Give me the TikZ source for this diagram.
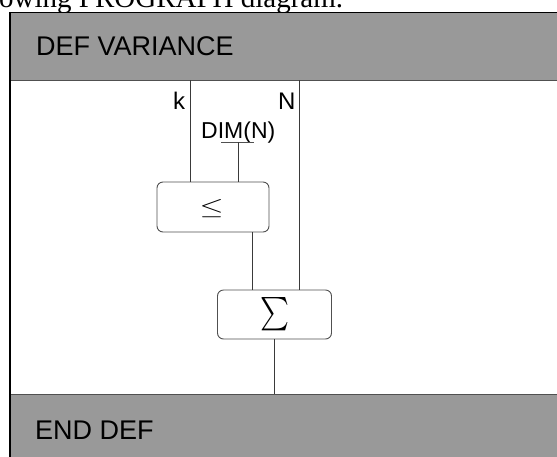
\documentclass[tikz,border=0pt]{standalone}
\usepackage{fontspec}
\setmainfont{Liberation Serif}
\newfontfamily\lsans{Liberation Sans}
\definecolor{hdrgray}{HTML}{999999}
\definecolor{linegray}{HTML}{3A3A3A}
\definecolor{boxgray}{HTML}{505050}
\tikzset{
  opbox/.style={draw=boxgray, line width=0.9pt, rounded corners=6pt, fill=white, inner sep=0pt},
  wire/.style={draw=linegray, line width=0.9pt},
  lbl/.style={inner sep=0pt, anchor=base west, font=\lsans\fontsize{24}{28}\selectfont},
  bandtext/.style={inner sep=0pt, anchor=base west, font=\lsans\fontsize{27}{32}\selectfont}
}
\begin{document}
\begin{tikzpicture}[x=1pt,y=-1pt]
\useasboundingbox (0,0) rectangle (557,456);
\clip (0,0) rectangle (557,456);
% cropped caption text above
\node[inner sep=0pt, anchor=base west, font=\fontsize{29}{34}\selectfont] (cap) at (-1,7) {owing PROGRAPH diagram.};
% header and footer bands
\node[fill=hdrgray, draw=none, inner sep=0pt, minimum width=560pt, minimum height=68pt, anchor=north west] (hdr) at (10,12) {};
\node[fill=hdrgray, draw=none, inner sep=0pt, minimum width=560pt, minimum height=70pt, anchor=north west] (ftr) at (10,394) {};
\draw[black, line width=1pt] (hdr.north west) -- (hdr.north east);
\draw[boxgray, line width=1pt] (hdr.south west) -- (hdr.south east);
\draw[boxgray, line width=1pt] (ftr.north west) -- (ftr.north east);
\draw[black, line width=1.2pt] (hdr.north west) -- (ftr.south west);
\node[bandtext] (deftxt) at (36,55) {DEF VARIANCE};
\node[bandtext] (endtxt) at (35,439) {END DEF};
% operation boxes
\node[opbox, minimum width=112pt, minimum height=50pt] (le) at (213,207) {};
\node[inner sep=0pt] (lesym) at (211.7,209) {\resizebox{24pt}{15pt}{$\leq$}};
\node[opbox, minimum width=114pt, minimum height=49pt] (sum) at (274.5,314.5) {};
\node[inner sep=0pt] (sumsym) at (275.3,314.5) {\resizebox{29pt}{25pt}{$\sum$}};
% inputs
\coordinate (kin) at (190,80);
\coordinate (nin) at (299,80);
\node[lbl] (klbl) at (173,109) {k};
\node[lbl] (nlbl) at (278,109) {N};
\node[inner sep=0pt, anchor=base west, font=\lsans\fontsize{23}{27}\selectfont] (dim) at (201,138) {DIM(N)};
\coordinate (dimL) at (221,142);
\coordinate (dimR) at (254,142);
\coordinate (dimC) at (238,142);
\draw[boxgray, line width=0.9pt] (dimL) -- (dimR);
\draw[wire] (kin) -- (kin |- le.north);
\draw[wire] (dimC) -- (dimC |- le.north);
\draw[wire] (nin) -- (nin |- sum.north);
\draw[wire] ([xshift=39pt]le.south) -- ([xshift=39pt]le.south |- sum.north);
\draw[wire] (sum.south) -- (sum.south |- ftr.north);
\end{tikzpicture}
\end{document}
